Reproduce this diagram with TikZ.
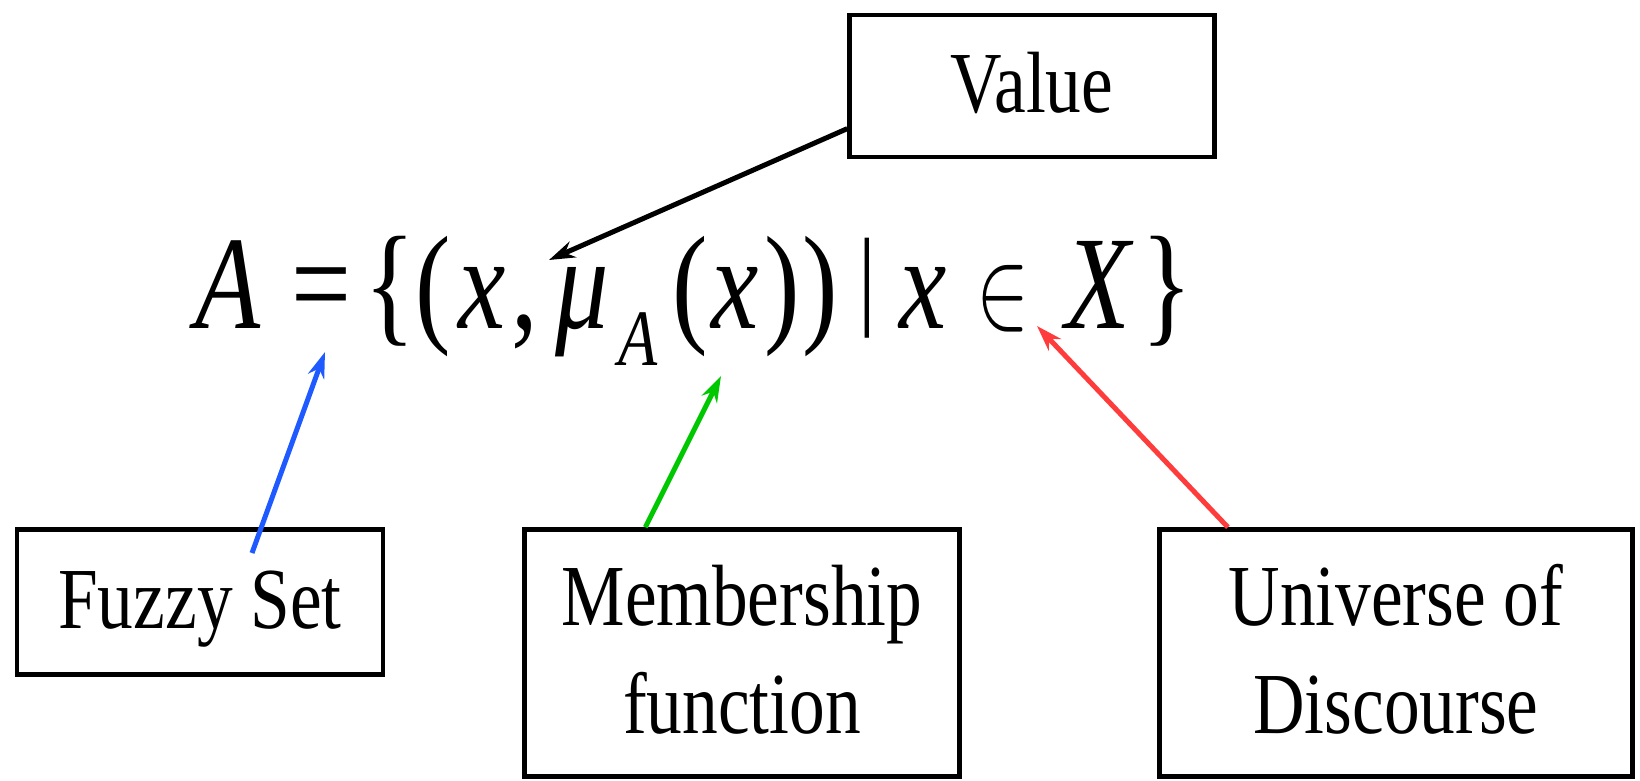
\documentclass[tikz,border=0pt]{standalone}
\usepackage{fontspec}
\setmainfont{Liberation Serif}
\usetikzlibrary{arrows.meta,calc}
\definecolor{arrblue}{RGB}{30,90,255}
\definecolor{arrgreen}{RGB}{0,200,0}
\definecolor{arrred}{RGB}{255,60,60}
\newcommand{\sqz}[1]{\scalebox{0.82}[1]{#1}}
\begin{document}
\begin{tikzpicture}[x=1pt,y=-1pt,
  labelbox/.style={draw=black, line width=4.5pt, inner sep=0pt,
    font=\fontsize{87}{108}\selectfont},
  glyph/.style={inner sep=0pt, anchor=base, xscale=0.8,
    font=\fontsize{133}{133}\selectfont},
  iglyph/.style={glyph, font=\fontsize{133}{133}\selectfont\itshape},
  arr/.style={line width=5pt, -{Stealth[length=26pt,width=17pt]}}
]
\useasboundingbox (0,0) rectangle (1640,781);

% label boxes
\node[labelbox, minimum width=365pt, minimum height=142pt,
  text height=60pt, text depth=6pt] (val) at (1032,86) {\sqz{Value}};
\node[labelbox, minimum width=366pt, minimum height=145pt,
  text height=60pt, text depth=8pt] (fz) at (200,602) {\sqz{Fuzzy Set}};
\node[labelbox, minimum width=435pt, minimum height=247pt,
  text height=60pt, text depth=116pt] (mf) at (742,653)
  {\sqz{\begin{tabular}[t]{@{}c@{}}Membership\\function\end{tabular}}};
\node[labelbox, minimum width=473pt, minimum height=247pt,
  text height=60pt, text depth=116pt] (ud) at (1396,653)
  {\sqz{\begin{tabular}[t]{@{}c@{}}Universe of\\Discourse\end{tabular}}};

% formula A = {(x, mu_A(x)) | x in X}
\node[iglyph] (gA)   at (228,328) {A};
\node[glyph]  (geq)  at (321,328) {=};
\node[glyph]  (glb)  at (390,328) {\{};
\node[glyph]  (glp1) at (433,328) {(};
\node[iglyph] (gx1)  at (482,328) {x};
\node[glyph]  (gcm)  at (525,328) {,};
\node[iglyph] (gmu)  at (582,328) {μ};
\node[iglyph, font=\fontsize{80}{80}\selectfont\itshape] (gsub) at (638,365) {A};
\node[glyph]  (glp2) at (690,328) {(};
\node[iglyph] (gx2)  at (735,328) {x};
\node[glyph]  (grp1) at (782,328) {)};
\node[glyph]  (grp2) at (820,328) {)};
\node[glyph, font=\fontsize{110}{110}\selectfont] (gbar) at (867,314) {|};
\node[iglyph] (gx3)  at (923,328) {x};
\node[inner sep=0pt, anchor=base] (gin) at (1003,327) {\resizebox{53pt}{62pt}{$\in$}};
\node[iglyph] (gX)   at (1098,328) {X};
\node[glyph]  (grb)  at (1167,328) {\}};

% arrow targets
\coordinate (tval) at (549,260);
\coordinate (tfz)  at (325,352);
\coordinate (tmf)  at (721,376);
\coordinate (tud)  at (1037,326);
\coordinate (sfz)  at (252,553);

% connectors
\draw[arr, black] (val.193.6) -- (tval);
\draw[arr, arrblue] (sfz) -- (tfz);
\draw[arr, arrgreen] ($(mf.north west)!0.28!(mf.north east)$) -- (tmf);
\draw[arr, arrred] ($(ud.north west)!0.148!(ud.north east)$) -- (tud);
\end{tikzpicture}
\end{document}
